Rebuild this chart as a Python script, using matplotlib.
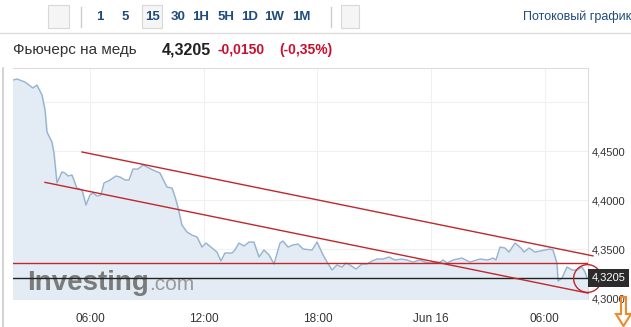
import numpy as np
import matplotlib.pyplot as plt
from matplotlib.patches import Rectangle, Polygon
from matplotlib.lines import Line2D
import matplotlib.transforms as mtransforms

plt.rcParams['font.family'] = ['Liberation Sans', 'DejaVu Sans']

# copper futures, 15-min quotes (hours since Jun 15 00:00)
times = [1.94, 2.15, 2.57, 2.99, 3.20, 3.47, 3.63, 3.73, 3.99, 4.10,
         4.26, 4.52, 4.68, 4.84, 5.05, 5.31, 5.58, 5.79, 6.00, 6.16,
         6.37, 6.58, 6.74, 7.06, 7.37, 7.58, 7.85, 8.06, 8.27, 8.53,
         8.80, 9.01, 9.32, 9.69, 10.06, 10.33, 10.49, 10.64, 10.85, 11.12,
         11.38, 11.65, 11.91, 12.12, 12.44, 12.70, 12.91, 13.12, 13.49, 13.65,
         13.86, 14.13, 14.39, 14.65, 14.92, 15.18, 15.45, 15.71, 16.03, 16.18,
         16.45, 16.71, 16.98, 17.24, 17.72, 17.98, 18.30, 18.51, 18.77, 19.03,
         19.30, 19.51, 19.72, 20.04, 20.35, 20.62, 20.88, 21.15, 21.46, 21.78,
         22.09, 22.46, 22.73, 23.04, 23.41, 23.68, 23.94, 24.47, 24.63, 24.84,
         25.16, 25.63, 26.05, 26.58, 27.00, 27.27, 27.42, 27.64, 27.90, 28.11,
         28.43, 28.74, 28.90, 29.17, 29.48, 29.75, 30.27, 30.43, 30.64, 30.70,
         30.91, 31.17, 31.44, 31.70, 31.96, 32.12, 32.23]
prices = [4.5224, 4.5235, 4.5204, 4.5143, 4.5173, 4.5071, 4.4918, 4.4694, 4.4592, 4.4480,
          4.4173, 4.4286, 4.4276, 4.4245, 4.4255, 4.4122, 4.4102, 4.3949, 4.4051, 4.4071,
          4.4041, 4.4051, 4.4173, 4.4204, 4.4245, 4.4235, 4.4204, 4.4204, 4.4316, 4.4316,
          4.4357, 4.4337, 4.4306, 4.4276, 4.4133, 4.4122, 4.4031, 4.3929, 4.3745, 4.3673,
          4.3643, 4.3622, 4.3520, 4.3561, 4.3510, 4.3469, 4.3378, 4.3459, 4.3459, 4.3490,
          4.3561, 4.3531, 4.3571, 4.3571, 4.3418, 4.3490, 4.3439, 4.3347, 4.3561, 4.3582,
          4.3520, 4.3541, 4.3551, 4.3500, 4.3490, 4.3571, 4.3439, 4.3367, 4.3286, 4.3337,
          4.3316, 4.3357, 4.3337, 4.3296, 4.3347, 4.3347, 4.3378, 4.3398, 4.3398, 4.3418,
          4.3388, 4.3398, 4.3388, 4.3367, 4.3388, 4.3367, 4.3357, 4.3367, 4.3388, 4.3357,
          4.3388, 4.3408, 4.3367, 4.3398, 4.3388, 4.3408, 4.3388, 4.3520, 4.3510, 4.3469,
          4.3561, 4.3510, 4.3469, 4.3510, 4.3469, 4.3480, 4.3500, 4.3490, 4.3357, 4.3173,
          4.3204, 4.3316, 4.3286, 4.3286, 4.3316, 4.3265, 4.3205]

# hand-drawn channel lines (time, price)
upper_x = [5.58, 32.54]
upper_y = [4.449, 4.343]
lower_x = [3.63, 32.28]
lower_y = [4.418, 4.305]
prev_close = 4.3355
last_price = 4.3205

xtick_pos = [6, 12, 18, 24, 30]
xtick_labels = ['06:00', '12:00', '18:00', 'Jun 16', '06:00']
ytick_pos = [4.30, 4.35, 4.40, 4.45, 4.50]
ytick_labels = ['4,3000', '4,3500', '4,4000', '4,4500', '']

periods = ['1', '5', '15', '30', '1H', '5H', '1D', '1W', '1M']
period_x = [100, 125, 152, 178, 201, 226, 250, 274, 301]

W, H = 631, 327
def fx(x):
    return x / W
def fy(y):
    return 1 - y / H

fig = plt.figure(figsize=(W / 100, H / 100), dpi=100)

# header bar
blue = '#1f4b7d'
fig.add_artist(Line2D([0, 1], [fy(33), fy(33)], color='#dddddd', lw=1))
for x0, x1 in [(48, 69), (142, 162), (341, 359)]:
    fig.add_artist(Rectangle((fx(x0), fy(28)), fx(x1 - x0), 23 / H,
                             facecolor='#f5f5f5', edgecolor='#d8d8d8', lw=0.8))
for xs in [81, 331]:
    fig.add_artist(Line2D([fx(xs), fx(xs)], [fy(27), fy(7)], color='#cccccc', lw=1))
for p, x in zip(periods, period_x):
    fig.text(fx(x), fy(17), p, ha='center', va='center', fontsize=9.5,
             fontweight='bold', color=blue)
fig.text(fx(523), fy(17), 'Потоковый график', ha='left', va='center',
         fontsize=9, color=blue)

# title row
fig.text(fx(13), fy(50), 'Фьючерс на медь', ha='left', va='center',
         fontsize=11, color='#333333')
fig.text(fx(162), fy(50), '4,3205', ha='left', va='center', fontsize=11.5,
         fontweight='bold', color='#222222')
fig.text(fx(218), fy(50), '-0,0150', ha='left', va='center', fontsize=10,
         fontweight='bold', color='#c8102e')
fig.text(fx(279), fy(50), '(-0,35%)', ha='left', va='center', fontsize=10,
         fontweight='bold', color='#c8102e')

# left border of the chart panel
fig.add_artist(Line2D([fx(3), fx(3)], [fy(68), 0], color='#cccccc', lw=1.2))

# chart
ax = fig.add_axes([fx(13), fy(299), (588 - 13) / W, (299 - 68) / H])
ymin, ymax = 4.299, 4.5347
ax.set_xlim(times[0], 32.28)
ax.set_ylim(ymin, ymax)

ax.fill_between(times, prices, ymin, color='#e3ecf5', zorder=1)
ax.plot(times, prices, color='#97b3cd', lw=1, zorder=3)

ax.text(0.024, 0.039, 'Investing', transform=ax.transAxes, fontsize=20,
        fontweight='bold', color='#7b7b7b', ha='left', va='baseline', zorder=2)
ax.text(0.237, 0.039, '.com', transform=ax.transAxes, fontsize=15,
        color='#9a9a9a', ha='left', va='baseline', zorder=2)

ax.axhline(prev_close, color='#c0262d', lw=1, zorder=4)
ax.axhline(last_price, color='#222222', lw=1, zorder=4)
ax.plot(upper_x, upper_y, color='#c0262d', lw=1, clip_on=False, zorder=5)
ax.plot(lower_x, lower_y, color='#c0262d', lw=1, clip_on=False, zorder=5)
ax.plot([times[-1]], [last_price], 'o', ms=20, mfc='none', mec='#c0262d',
        mew=1, clip_on=False, zorder=6)

ax.set_xticks(xtick_pos)
ax.set_xticklabels(xtick_labels)
ax.set_yticks(ytick_pos)
ax.set_yticklabels(ytick_labels)
ax.yaxis.tick_right()
ax.tick_params(axis='both', length=0, labelsize=8, labelcolor='#333333')
ax.tick_params(axis='x', pad=10, labelsize=8.5)
ax.tick_params(axis='y', pad=3)
ax.grid(True, color='#f0f0f0', lw=0.8)
ax.set_axisbelow(True)
for side in ['left', 'bottom']:
    ax.spines[side].set_visible(False)
for side in ['top', 'right']:
    ax.spines[side].set_color('#dddddd')

# last price tag
trans = mtransforms.blended_transform_factory(ax.transAxes, ax.transData)
ax.text(1.006, last_price, '4,3205', transform=trans, ha='left', va='center',
        fontsize=8, color='white', zorder=7,
        bbox=dict(boxstyle='square,pad=0.35', facecolor='#2b2b2b', edgecolor='none'))

# orange scroll arrow
arrow = [(621, 297), (626, 297), (626, 314), (631, 314), (623.5, 326),
         (616, 314), (621, 314)]
fig.add_artist(Polygon([(fx(a), fy(b)) for a, b in arrow], closed=True,
                       facecolor='none', edgecolor='#f0892a', lw=1.5))

fig.savefig('out.png', dpi=100)
